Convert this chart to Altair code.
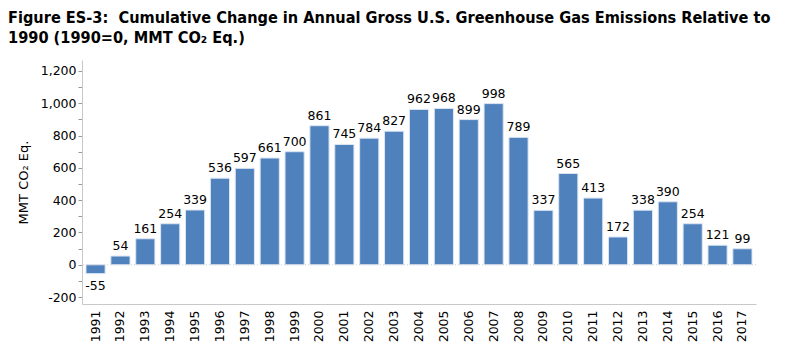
import altair as alt
import pandas as pd

years = [str(y) for y in range(1991, 2018)]
values = [-55, 54, 161, 254, 339, 536, 597, 661, 700, 861, 745, 784, 827, 962, 968,
          899, 998, 789, 337, 565, 413, 172, 338, 390, 254, 121, 99]

df = pd.DataFrame({"year": years, "value": values})
df["label"] = [str(v) for v in values]

FONT = "DejaVu Sans"
BAR = "#4f81bd"

x = alt.X("year:N", title=None, sort=None,
          scale=alt.Scale(paddingInner=0.23, paddingOuter=0.16),
          axis=alt.Axis(labelAngle=-90, labelFont=FONT, labelFontSize=12.5, labelColor="#000",
                        domainColor="#c8c8c8", ticks=False, labelPadding=6, labelBaseline="middle"))
y = alt.Y("value:Q", title="MMT CO₂ Eq.",
          scale=alt.Scale(domain=[-243, 1268], nice=False, zero=False),
          axis=alt.Axis(values=list(range(-200, 1201, 100)),
                        labelExpr="datum.value % 200 == 0 ? replace(format(datum.value, ','), '\u2212', '-') : ''",
                        labelOverlap=False,
                        labelFont=FONT, labelFontSize=12.5, labelColor="#000",
                        titleFont=FONT, titleFontSize=13, titleFontWeight="normal", titleColor="#000",
                        titlePadding=10,
                        domainColor="#c8c8c8", tickColor="#999", tickSize=4, grid=False,
                        labelPadding=2))

base = alt.Chart(df)
bars = base.mark_bar(color=BAR, stroke="#dce6f2", strokeWidth=1).encode(x=x, y=y)
zero = alt.Chart(pd.DataFrame({"value": [0]})).mark_rule(color="#d0d0d0", strokeDash=[1, 2]).encode(y=y)
lab_pos = base.transform_filter("datum.value >= 0").mark_text(
    font=FONT, fontSize=12.5, color="#000", baseline="bottom", dy=-3).encode(
    x=alt.X("year:N", sort=None), y=y, text="label:N")
lab_neg = base.transform_filter("datum.value < 0").mark_text(
    font=FONT, fontSize=12.5, color="#000", baseline="top", dy=6).encode(
    x=alt.X("year:N", sort=None), y=y, text="label:N")

chart = alt.layer(bars, zero, lab_pos, lab_neg).properties(
    width=674, height=244,
    autosize=alt.AutoSizeParams(type="none"),
    padding={"left": 74, "top": 52, "right": 20, "bottom": 45},
    title=alt.TitleParams(
        ["Figure ES-3:\u00a0 Cumulative Change in Annual Gross U.S. Greenhouse Gas Emissions Relative to",
         "1990 (1990=0, MMT CO₂ Eq.)"],
        anchor="start", frame="group", dx=-74, dy=-14, font="DejaVu Sans Condensed",
        fontSize=16.2, fontWeight="bold", color="#000", lineHeight=20, offset=0),
).configure_view(stroke=None)

chart.save("out.html", embed_options={"renderer": "svg", "actions": False})
